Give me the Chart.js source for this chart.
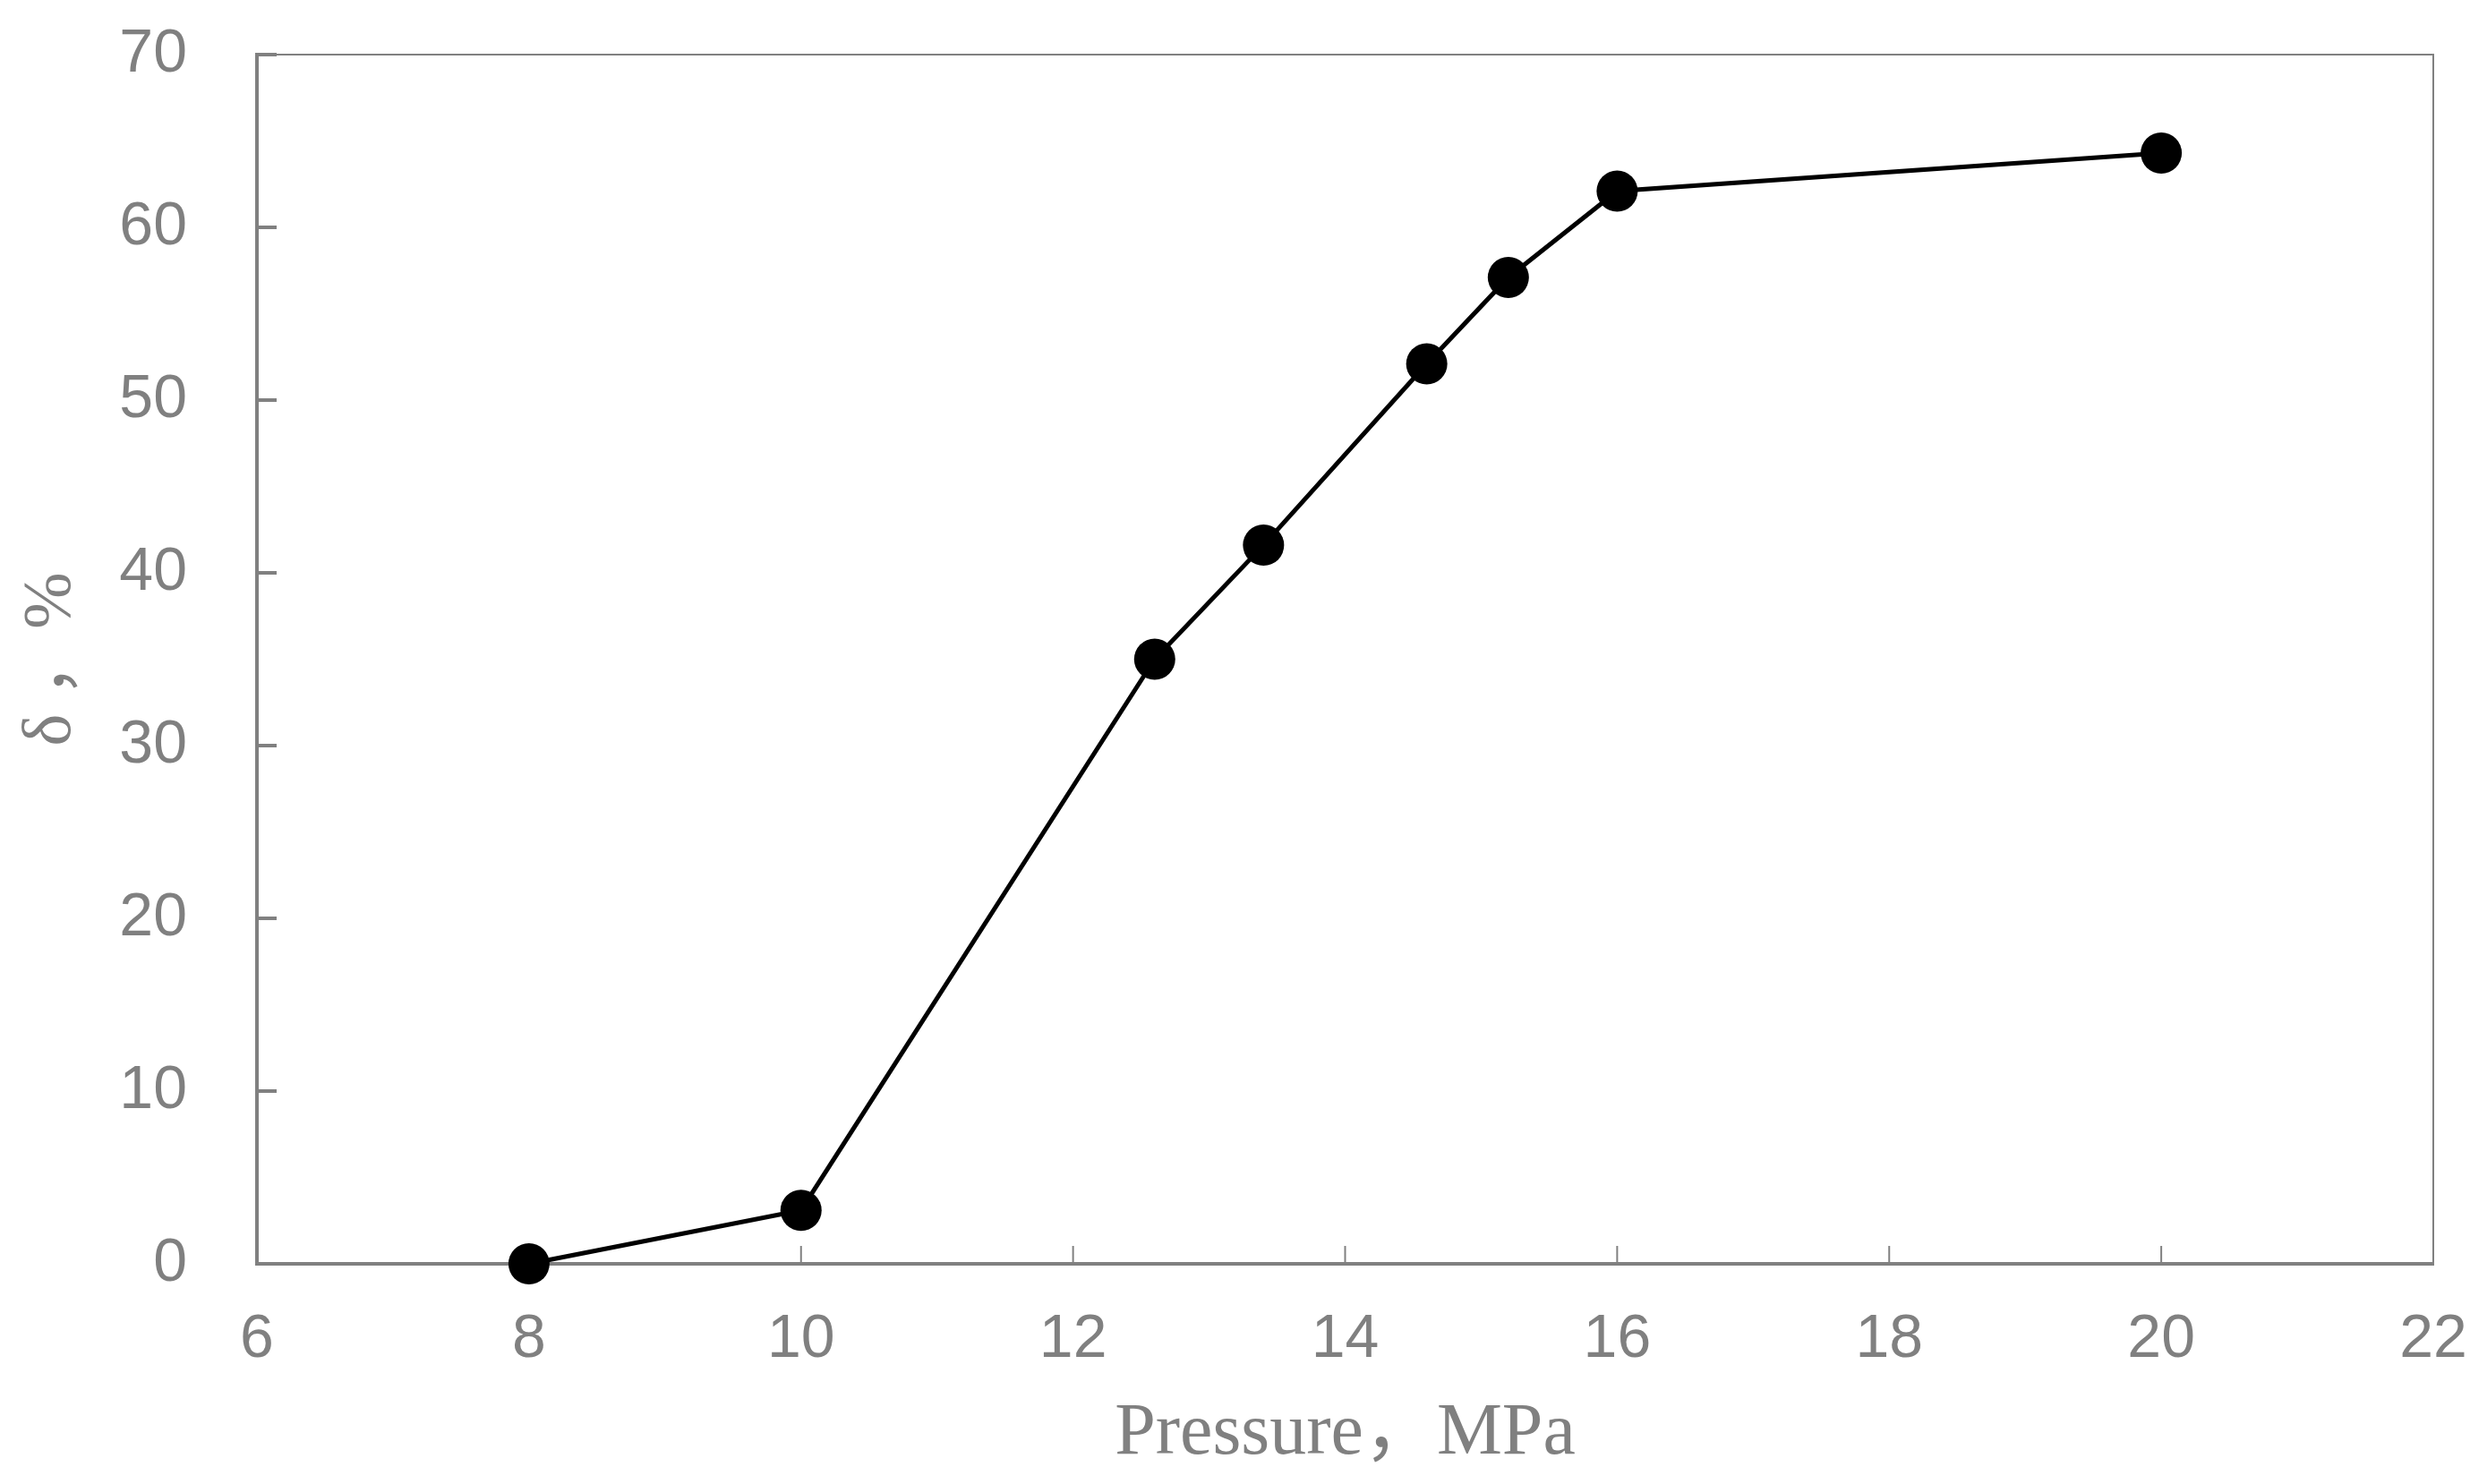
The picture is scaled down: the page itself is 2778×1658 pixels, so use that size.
<!DOCTYPE html>
<html>
<head>
<meta charset="utf-8">
<script src="https://cdn.jsdelivr.net/npm/chart.js@4/dist/chart.umd.min.js"></script>
<style>
  html, body { margin: 0; padding: 0; background: #fff; }
</style>
</head>
<body>
<canvas id="chart" width="2778" height="1658"></canvas>
<script>
// data
const pressure = [8, 10, 12.6, 13.4, 14.6, 15.2, 16, 20];
const delta = [0, 3.1, 35.0, 41.6, 52.1, 57.1, 62.1, 64.3];
const xTicks = [6, 8, 10, 12, 14, 16, 18, 20, 22];
const yTicks = [0, 10, 20, 30, 40, 50, 60, 70];
const xTitle = "Pressure，MPa";
const yTitle = "δ ，%";

const gray = "#808080";

// inner tick marks + thin top/right frame
const frame = {
  id: "frame",
  beforeDatasetsDraw(chart) {
    const ctx = chart.ctx;
    const a = chart.chartArea;
    const xs = chart.scales.x;
    const ys = chart.scales.y;
    ctx.save();
    ctx.strokeStyle = gray;
    ctx.lineWidth = 2;
    ctx.beginPath();
    ctx.moveTo(a.left, a.top);
    ctx.lineTo(a.right, a.top);
    ctx.lineTo(a.right, a.bottom);
    ctx.stroke();

    ctx.lineWidth = 4;
    yTicks.forEach((v) => {
      const py = ys.getPixelForValue(v);
      ctx.beginPath();
      ctx.moveTo(a.left, py);
      ctx.lineTo(a.left + 22, py);
      ctx.stroke();
    });
    ctx.lineWidth = 2;
    xTicks.forEach((v) => {
      const px = xs.getPixelForValue(v);
      ctx.beginPath();
      ctx.moveTo(px, a.bottom);
      ctx.lineTo(px, a.bottom - 20);
      ctx.stroke();
    });
    ctx.restore();
  },
};

new Chart(document.getElementById("chart"), {
  type: "line",
  data: {
    datasets: [
      {
        data: pressure.map((p, i) => ({ x: p, y: delta[i] })),
        borderColor: "#000",
        borderWidth: 5,
        backgroundColor: "#000",
        pointRadius: 23,
        pointBorderWidth: 0,
        pointBackgroundColor: "#000",
        tension: 0,
        clip: false,
      },
    ],
  },
  options: {
    responsive: false,
    animation: false,
    devicePixelRatio: 1,
    layout: { padding: { top: 61, right: 60, left: 0, bottom: 0 } },
    plugins: {
      legend: { display: false },
      tooltip: { enabled: false },
    },
    scales: {
      x: {
        type: "linear",
        min: 6,
        max: 22,
        afterFit: (s) => {
          s.height = 246;
          s.paddingLeft = 0;
          s.paddingRight = 0;
        },
        afterBuildTicks: (s) => { s.ticks = xTicks.map((v) => ({ value: v })); },
        grid: { display: false, drawTicks: false },
        border: { display: true, color: gray, width: 4 },
        ticks: {
          color: gray,
          padding: 44,
          maxRotation: 0,
          font: { family: "Liberation Sans", size: 68 },
        },
        title: {
          display: true,
          text: xTitle,
          color: gray,
          padding: { top: 6, bottom: 6 },
          font: { family: "'Liberation Serif', 'Noto Sans CJK SC'", size: 82 },
        },
      },
      y: {
        min: 0,
        max: 70,
        afterFit: (s) => {
          s.width = 287;
          s.paddingTop = 0;
          s.paddingBottom = 0;
        },
        afterBuildTicks: (s) => { s.ticks = yTicks.map((v) => ({ value: v })); },
        grid: { display: false, drawTicks: false },
        border: { display: true, color: gray, width: 4 },
        ticks: {
          color: gray,
          padding: 78,
          font: { family: "Liberation Sans", size: 68 },
        },
        title: {
          display: true,
          text: yTitle,
          color: gray,
          padding: { top: 12, bottom: 0 },
          font: { family: "'Liberation Serif', 'Noto Sans CJK SC'", size: 76 },
        },
      },
    },
  },
  plugins: [frame],
});
</script>
</body>
</html>
